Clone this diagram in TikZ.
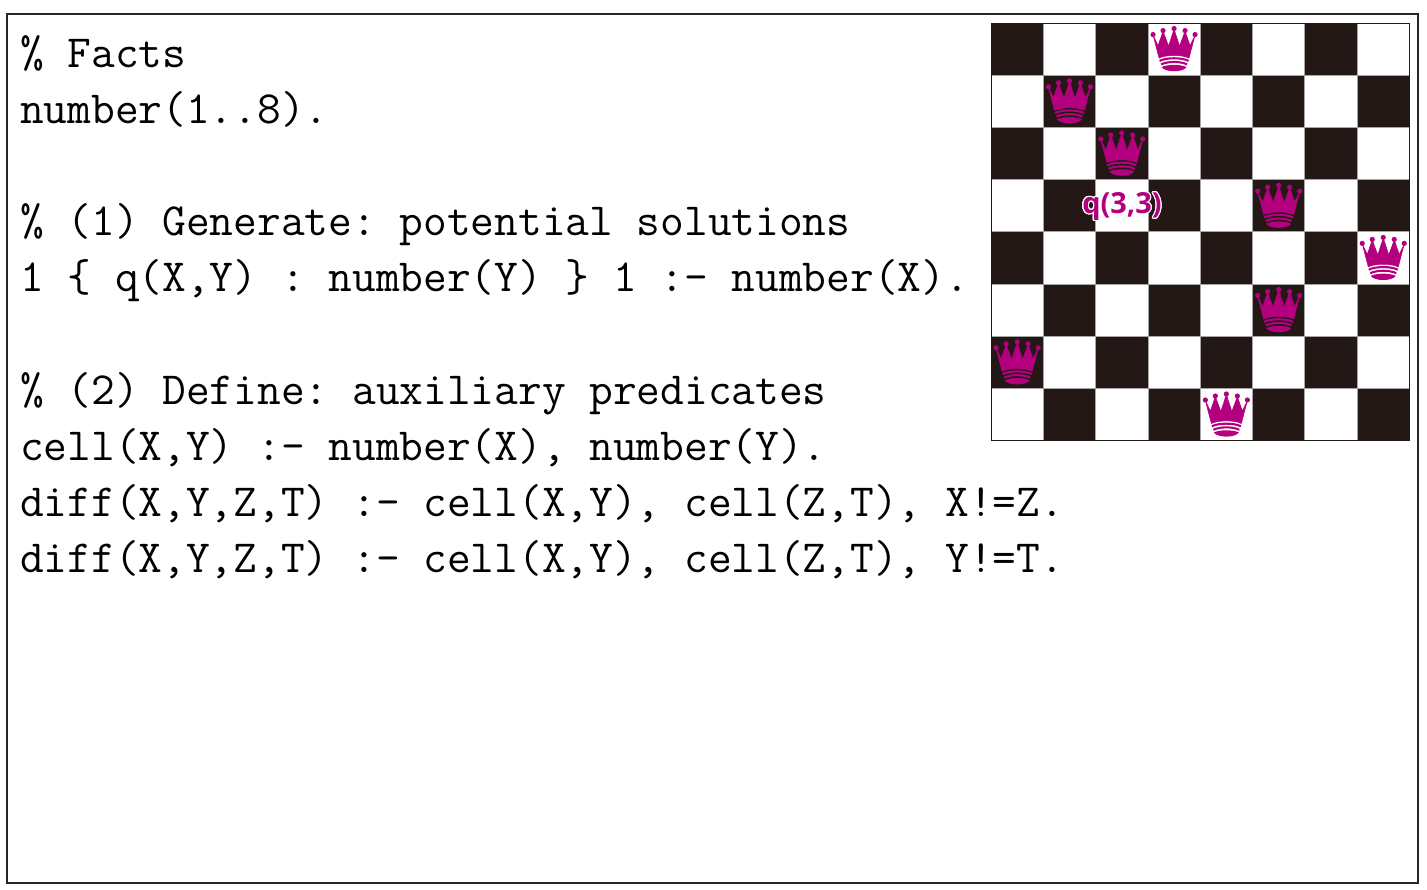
\documentclass[tikz,border=0pt]{standalone}
\usepackage{fontspec}
\usepackage[copies]{contour}
\newfontfamily\labelfont{Open Sans}
\definecolor{boardblack}{HTML}{231815}
\definecolor{queencolor}{HTML}{B4007F}
\contourlength{1.1pt}
\frenchspacing
\tikzset{
	codeline/.style={anchor=base west,inner sep=0pt,font=\ttfamily\fontsize{46.06}{56}\selectfont},
	cellbox/.style={draw=gray!70,line width=0.7pt},
	queenlabel/.style={inner sep=0pt,text=queencolor,font=\labelfont\bfseries\fontsize{29}{32}\selectfont},
	queen/.pic={
		\filldraw[queencolor,line width=0.5pt,line join=round] (-21,-14) -- (-16,-3.5) -- (-11,-18) -- (-5.5,-3) -- (0,-20) -- (5.5,-3) -- (11,-18)
			-- (16,-3.5) -- (21,-14) -- (15,9) .. controls (8,5.5) and (-8,5.5) .. (-15,9) -- cycle;
		\foreach \bx/\by in {-21/-14.5,-11/-18.5,0/-20.5,11/-18.5,21/-14.5}
			\fill[queencolor] (\bx,\by) circle (2.6);
		\draw[queencolor,line width=2.1pt] (-14.5,11.8) .. controls (-8,8.3) and (8,8.3) .. (14.5,11.8);
		\draw[queencolor,line width=2.1pt] (-13,15.3) .. controls (-6,12) and (6,12) .. (13,15.3);
		\fill[queencolor] (-12.5,18) .. controls (-6,15) and (6,15) .. (12.5,18) .. controls (9,23.5) and (-9,23.5) .. cycle;
	}
}
\begin{document}
\begin{tikzpicture}[x=1pt,y=-1pt]
\useasboundingbox (0,0) rectangle (1427,890);
\draw[line width=1.5pt,draw=black!85] (7,14) rectangle (1418,883);

% code
\node[codeline] (facts) at (20,68) {\% Facts};
\node[codeline] (number) at (20,124) {number(1..8).};
\node[codeline] (generate) at (20,236) {\% (1) Generate: potential solutions};
\node[codeline] (choice) at (20,292) {1 \{ q(X,Y) : number(Y) \} 1 :- number(X).};
\node[codeline] (define) at (20,405) {\% (2) Define: auxiliary predicates};
\node[codeline] (cell) at (20,460.5) {cell(X,Y) :- number(X), number(Y).};
\node[codeline] (diffa) at (20,516.5) {diff(X,Y,Z,T) :- cell(X,Y), cell(Z,T), X!=Z.};
\node[codeline] (diffb) at (20,572.5) {diff(X,Y,Z,T) :- cell(X,Y), cell(Z,T), Y!=T.};

% board
\foreach \col in {0,...,7}
	\foreach \row in {0,...,7}{
		\pgfmathsetmacro{\shade}{isodd(\col+\row) ? 0 : 1}
		\ifnum\shade=1
			\filldraw[cellbox,fill=boardblack] ({991+52.3*\col},{23+52.2*\row}) rectangle ++(52.3,52.2);
		\else
			\filldraw[cellbox,fill=white] ({991+52.3*\col},{23+52.2*\row}) rectangle ++(52.3,52.2);
		\fi
	}
\draw[line width=0.7pt,draw=boardblack] (991,23) rectangle (1409.4,440.6);

% queens
\foreach \col/\row in {3/0,1/1,2/2,5/3,7/4,5/5,0/6,4/7}
	\pic at ({991+52.3*(\col+0.5)},{23+52.2*(\row+0.5)}) {queen};

\node[queenlabel] (label) at (1122,207) {\contour{white}{q(3,3)}};
\end{tikzpicture}
\end{document}
